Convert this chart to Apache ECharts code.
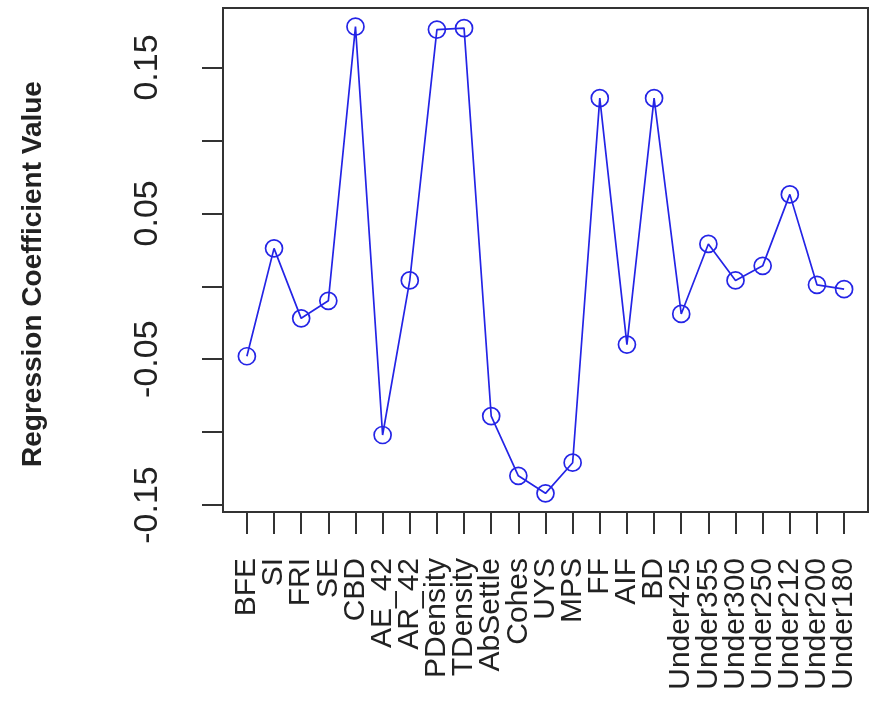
<!DOCTYPE html>
<html>
<head>
<meta charset="utf-8">
<script src="https://cdn.jsdelivr.net/npm/echarts@6/dist/echarts.min.js"></script>
<style>html,body{margin:0;padding:0;background:#fff;}#c{width:876px;height:702px;}</style>
</head>
<body>
<div id="c"></div>
<script>
const categories = ["BFE","SI","FRI","SE","CBD","AE_42","AR_42","PDensity","TDensity","AbSettle","Cohes","UYS","MPS","FF","AIF","BD","Under425","Under355","Under300","Under250","Under212","Under200","Under180"];
const coefficients = [-0.048,0.026,-0.022,-0.010,0.178,-0.102,0.004,0.176,0.177,-0.089,-0.130,-0.142,-0.121,0.129,-0.040,0.129,-0.019,0.029,0.004,0.014,0.063,0.001,-0.002];
const yTickValues = [-0.15,-0.10,-0.05,0,0.05,0.10,0.15];
const yLabelValues = [-0.15,-0.05,0.05,0.15];
const yTitle = "Regression Coefficient Value";

// layout (pixels)
const W = 876, boxLeft = 223, boxRight = 8, boxTop = 8, boxBottom = 190;
const n = categories.length;
const pad = (n - 1) * 0.04;               // R-style 4% axis extension
const boxWidth = W - boxLeft - boxRight;
const step = boxWidth / (n - 1 + 2 * pad);
const innerLeft = boxLeft + (pad - 0.5) * step;
const innerWidth = n * step;

const ymin = Math.min(...coefficients), ymax = Math.max(...coefficients);
const ypad = (ymax - ymin) * 0.04;
const yMin = ymin - ypad, yMax = ymax + ypad;

const chart = echarts.init(document.getElementById('c'));
const lineColor = '#2424e6';
const font = 'Liberation Sans, Arial, sans-serif';
chart.setOption({
  animation: false,
  backgroundColor: '#fff',
  grid: [
    {left: boxLeft, right: boxRight, top: boxTop, bottom: boxBottom, show: true, borderColor: '#333', borderWidth: 2, backgroundColor: 'transparent'},
    {left: innerLeft, width: innerWidth, top: boxTop, bottom: boxBottom, show: false}
  ],
  xAxis: [
    {gridIndex: 0, type: 'value', min: 0, max: 1, show: false},
    {
      gridIndex: 1, type: 'category', data: categories, boundaryGap: true,
      axisLine: {show: false, onZero: false},
      axisTick: {show: true, alignWithLabel: true, interval: 0, length: 22, lineStyle: {color: '#333', width: 2}},
      axisLabel: {interval: 0, rotate: 90, margin: 46, fontFamily: font, fontSize: 30, color: '#222'},
      splitLine: {show: false}
    }
  ],
  yAxis: [
    {
      gridIndex: 0, type: 'value', min: yMin, max: yMax,
      splitLine: {show: false},
      axisLine: {show: false, onZero: false},
      axisTick: {show: true, length: 21, lineStyle: {color: '#333', width: 2}, customValues: yTickValues},
      axisLabel: {
        customValues: yLabelValues, rotate: 90, margin: 58,
        fontFamily: font, fontSize: 34, color: '#222',
        formatter: v => (Math.round(v * 100) / 100).toFixed(2)
      },
      name: yTitle, nameLocation: 'middle', nameRotate: 90, nameGap: 176,
      nameTextStyle: {fontFamily: font, fontSize: 28, fontWeight: 'bold', color: '#222', padding: [0, 28, 0, 0]}
    },
    {gridIndex: 1, type: 'value', min: yMin, max: yMax, show: false}
  ],
  series: [{
    type: 'line', xAxisIndex: 1, yAxisIndex: 1, data: coefficients,
    symbol: 'circle', symbolSize: 17, showSymbol: true,
    lineStyle: {color: lineColor, width: 1.7},
    itemStyle: {color: 'transparent', borderColor: lineColor, borderWidth: 1.7}
  }]
});
</script>
</body>
</html>
